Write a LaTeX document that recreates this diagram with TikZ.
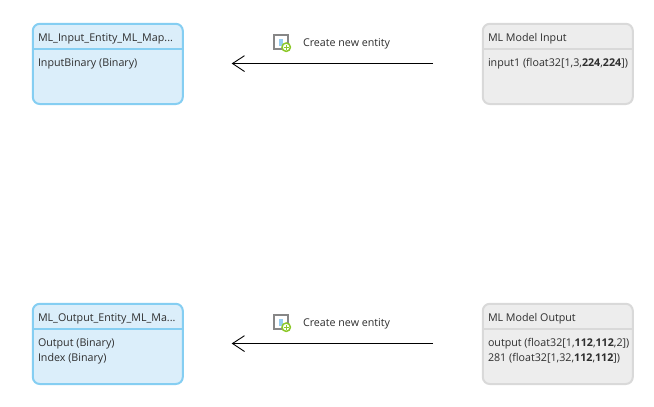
\documentclass[tikz,border=0pt]{standalone}
\usepackage{fontspec}
\setmainfont{Open Sans}
\definecolor{blueline}{RGB}{133,206,242}
\definecolor{bluefill}{RGB}{219,238,250}
\definecolor{grayline}{RGB}{217,217,217}
\definecolor{grayfill}{RGB}{237,237,237}
\definecolor{plusgreen}{RGB}{140,200,40}
\definecolor{iconblue}{RGB}{150,205,240}
\definecolor{icongray}{RGB}{135,135,135}
\begin{document}
\begin{tikzpicture}[x=1pt,y=-1pt,
  every node/.style={inner sep=0pt,outer sep=0pt},
  txt/.style={anchor=base west,font=\fontsize{10.7pt}{12pt}\selectfont,text=black!82},
  bluebox/.style={rounded corners=7pt,line width=2pt,draw=blueline,fill=bluefill},
  graybox/.style={rounded corners=7pt,line width=2pt,draw=grayline,fill=grayfill},
  arrowline/.style={draw=black,line width=0.9pt}]
\useasboundingbox (0,0) rectangle (654,407);
\fill[white] (0,0) rectangle (654,407);
\draw[bluebox] (32.8,23.8) rectangle (182.8,104);
\draw[blueline,line width=2pt] (32.8,48.8) -- (182.8,48.8);
\draw[graybox] (482.8,23.8) rectangle (632.8,104);
\draw[grayline,line width=2pt] (482.8,48.8) -- (632.8,48.8);
\draw[bluebox] (32.8,303.8) rectangle (182.8,384);
\draw[blueline,line width=2pt] (32.8,328.8) -- (182.8,328.8);
\draw[graybox] (482.8,303.8) rectangle (632.8,384);
\draw[grayline,line width=2pt] (482.8,328.8) -- (632.8,328.8);
\node[txt] (t1) at (38,41) {ML\_Input\_Entity\_ML\_Map...};
\node[txt] (a1) at (38,66) {InputBinary (Binary)};
\node[txt] (t2) at (488,41) {ML Model Input};
\node[txt] (a2) at (488,66.5) {input1 (float32[1,3,\textbf{224},\textbf{224}])};
\node[txt] (t3) at (38,321) {ML\_Output\_Entity\_ML\_Ma...};
\node[txt] (a3) at (38,346) {Output (Binary)};
\node[txt] (a4) at (38,361.5) {Index (Binary)};
\node[txt] (t4) at (488,321) {ML Model Output};
\node[txt] (a5) at (488,346) {output (float32[1,\textbf{112},\textbf{112},2])};
\node[txt] (a6) at (488,361.5) {281 (float32[1,32,\textbf{112},\textbf{112}])};
\coordinate (s1) at (433,63.5); \coordinate (e1) at (232.5,63.5);
\coordinate (s2) at (433,343.5); \coordinate (e2) at (232.5,343.5);
\foreach \s/\e/\y in {s1/e1/0,s2/e2/280}{
  \draw[arrowline] (\s) -- (\e);
  \draw[arrowline] (244.5,55.7+\y) -- (232.5,63.5+\y) -- (244.5,71.5+\y);
  \draw[line width=1.6pt,draw=icongray,fill=white] (274.2,35+\y) rectangle (288,49+\y);
  \fill[iconblue] (279,39+\y) rectangle (283,46+\y);
  \draw[line width=1.5pt,draw=plusgreen,fill=white] (286.2,47.2+\y) circle (4.2);
  \draw[line width=1.2pt,draw=plusgreen] (283.8,47.2+\y) -- (288.6,47.2+\y) (286.2,44.8+\y) -- (286.2,49.6+\y);
}
\node[txt] (c1) at (303,46) {Create new entity};
\node[txt] (c2) at (303,326) {Create new entity};
\end{tikzpicture}
\end{document}
